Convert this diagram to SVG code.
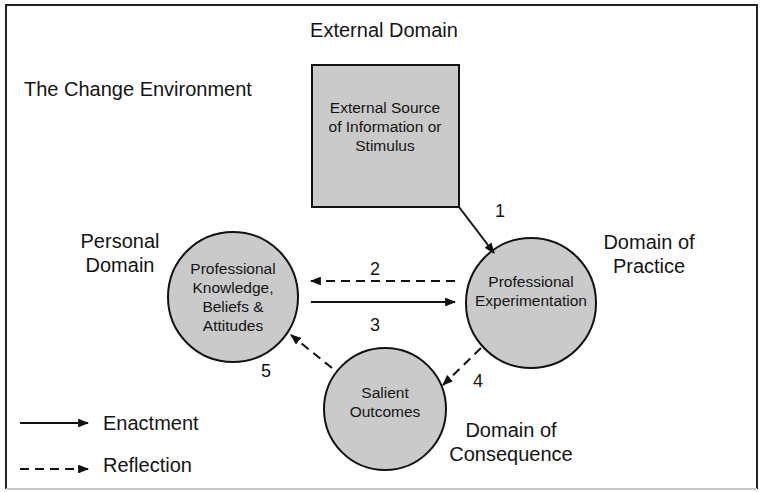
<svg xmlns="http://www.w3.org/2000/svg" width="762" height="492" viewBox="0 0 762 492">
  <style>
    text { font-family: "Liberation Sans", Arial, sans-serif; fill: #141414; text-anchor: middle; }
    .big { font-size: 20px; }
    .node-text { font-size: 15.5px; }
    .num { font-size: 18px; }
    .shape { fill: #cacaca; stroke: #111; stroke-width: 2; }
    .solid { fill: none; stroke: #111; stroke-width: 2; }
    .dash { fill: none; stroke: #111; stroke-width: 2; stroke-dasharray: 9 6; }
  </style>
  <defs>
    <marker id="head" viewBox="0 0 10 8" refX="9" refY="4" markerWidth="5.5" markerHeight="4.4" orient="auto" markerUnits="strokeWidth">
      <path d="M0,0 L10,4 L0,8 Z" fill="#111"/>
    </marker>
  </defs>

  <rect width="762" height="492" fill="#fff"/>
  <!-- frame -->
  <path d="M6,489 V5 H757 V489" fill="none" stroke="#222" stroke-width="2"/>
  <path d="M6,489 H757" fill="none" stroke="#c8c8c8" stroke-width="2"/>

  <!-- domain labels -->
  <text class="big" x="384" y="37">External Domain</text>
  <text class="big" x="24" y="96" style="text-anchor:start">The Change Environment</text>
  <text class="big" x="120" y="248">Personal</text>
  <text class="big" x="120" y="272">Domain</text>
  <text class="big" x="649" y="249">Domain of</text>
  <text class="big" x="649" y="273">Practice</text>
  <text class="big" x="511" y="437">Domain of</text>
  <text class="big" x="511" y="461">Consequence</text>

  <g id="external-source">
    <rect class="shape" x="312" y="65" width="147" height="142"/>
    <text class="node-text" x="385" y="113">External Source</text>
    <text class="node-text" x="385" y="132">of Information or</text>
    <text class="node-text" x="385" y="151">Stimulus</text>
  </g>

  <g id="personal-knowledge">
    <circle class="shape" cx="233" cy="297" r="65"/>
    <text class="node-text" x="233" y="274">Professional</text>
    <text class="node-text" x="233" y="293">Knowledge,</text>
    <text class="node-text" x="233" y="312">Beliefs &amp;</text>
    <text class="node-text" x="233" y="331">Attitudes</text>
  </g>

  <g id="professional-experimentation">
    <circle class="shape" cx="531" cy="303" r="65"/>
    <text class="node-text" x="531" y="287">Professional</text>
    <text class="node-text" x="531" y="306">Experimentation</text>
  </g>

  <g id="salient-outcomes">
    <circle class="shape" cx="385" cy="409" r="61"/>
    <text class="node-text" x="385" y="398">Salient</text>
    <text class="node-text" x="385" y="417">Outcomes</text>
  </g>

  <g id="connectors">
    <line class="solid" x1="459" y1="207" x2="494" y2="253" marker-end="url(#head)"/>
    <line class="dash" x1="455" y1="281" x2="311" y2="281" marker-end="url(#head)"/>
    <line class="solid" x1="311" y1="302" x2="455" y2="302" marker-end="url(#head)"/>
    <line class="dash" x1="481" y1="348" x2="443" y2="385" marker-end="url(#head)"/>
    <line class="dash" x1="332" y1="368" x2="291" y2="335" marker-end="url(#head)"/>
    <text class="num" x="500" y="217">1</text>
    <text class="num" x="375" y="275">2</text>
    <text class="num" x="375" y="331">3</text>
    <text class="num" x="478" y="387">4</text>
    <text class="num" x="266" y="377">5</text>
  </g>

  <g id="legend">
    <line class="solid" x1="20" y1="423" x2="88" y2="423" marker-end="url(#head)"/>
    <text class="big" x="103" y="430" style="text-anchor:start">Enactment</text>
    <line class="dash" x1="20" y1="469" x2="88" y2="469" marker-end="url(#head)"/>
    <text class="big" x="103" y="472" style="text-anchor:start">Reflection</text>
  </g>
</svg>
